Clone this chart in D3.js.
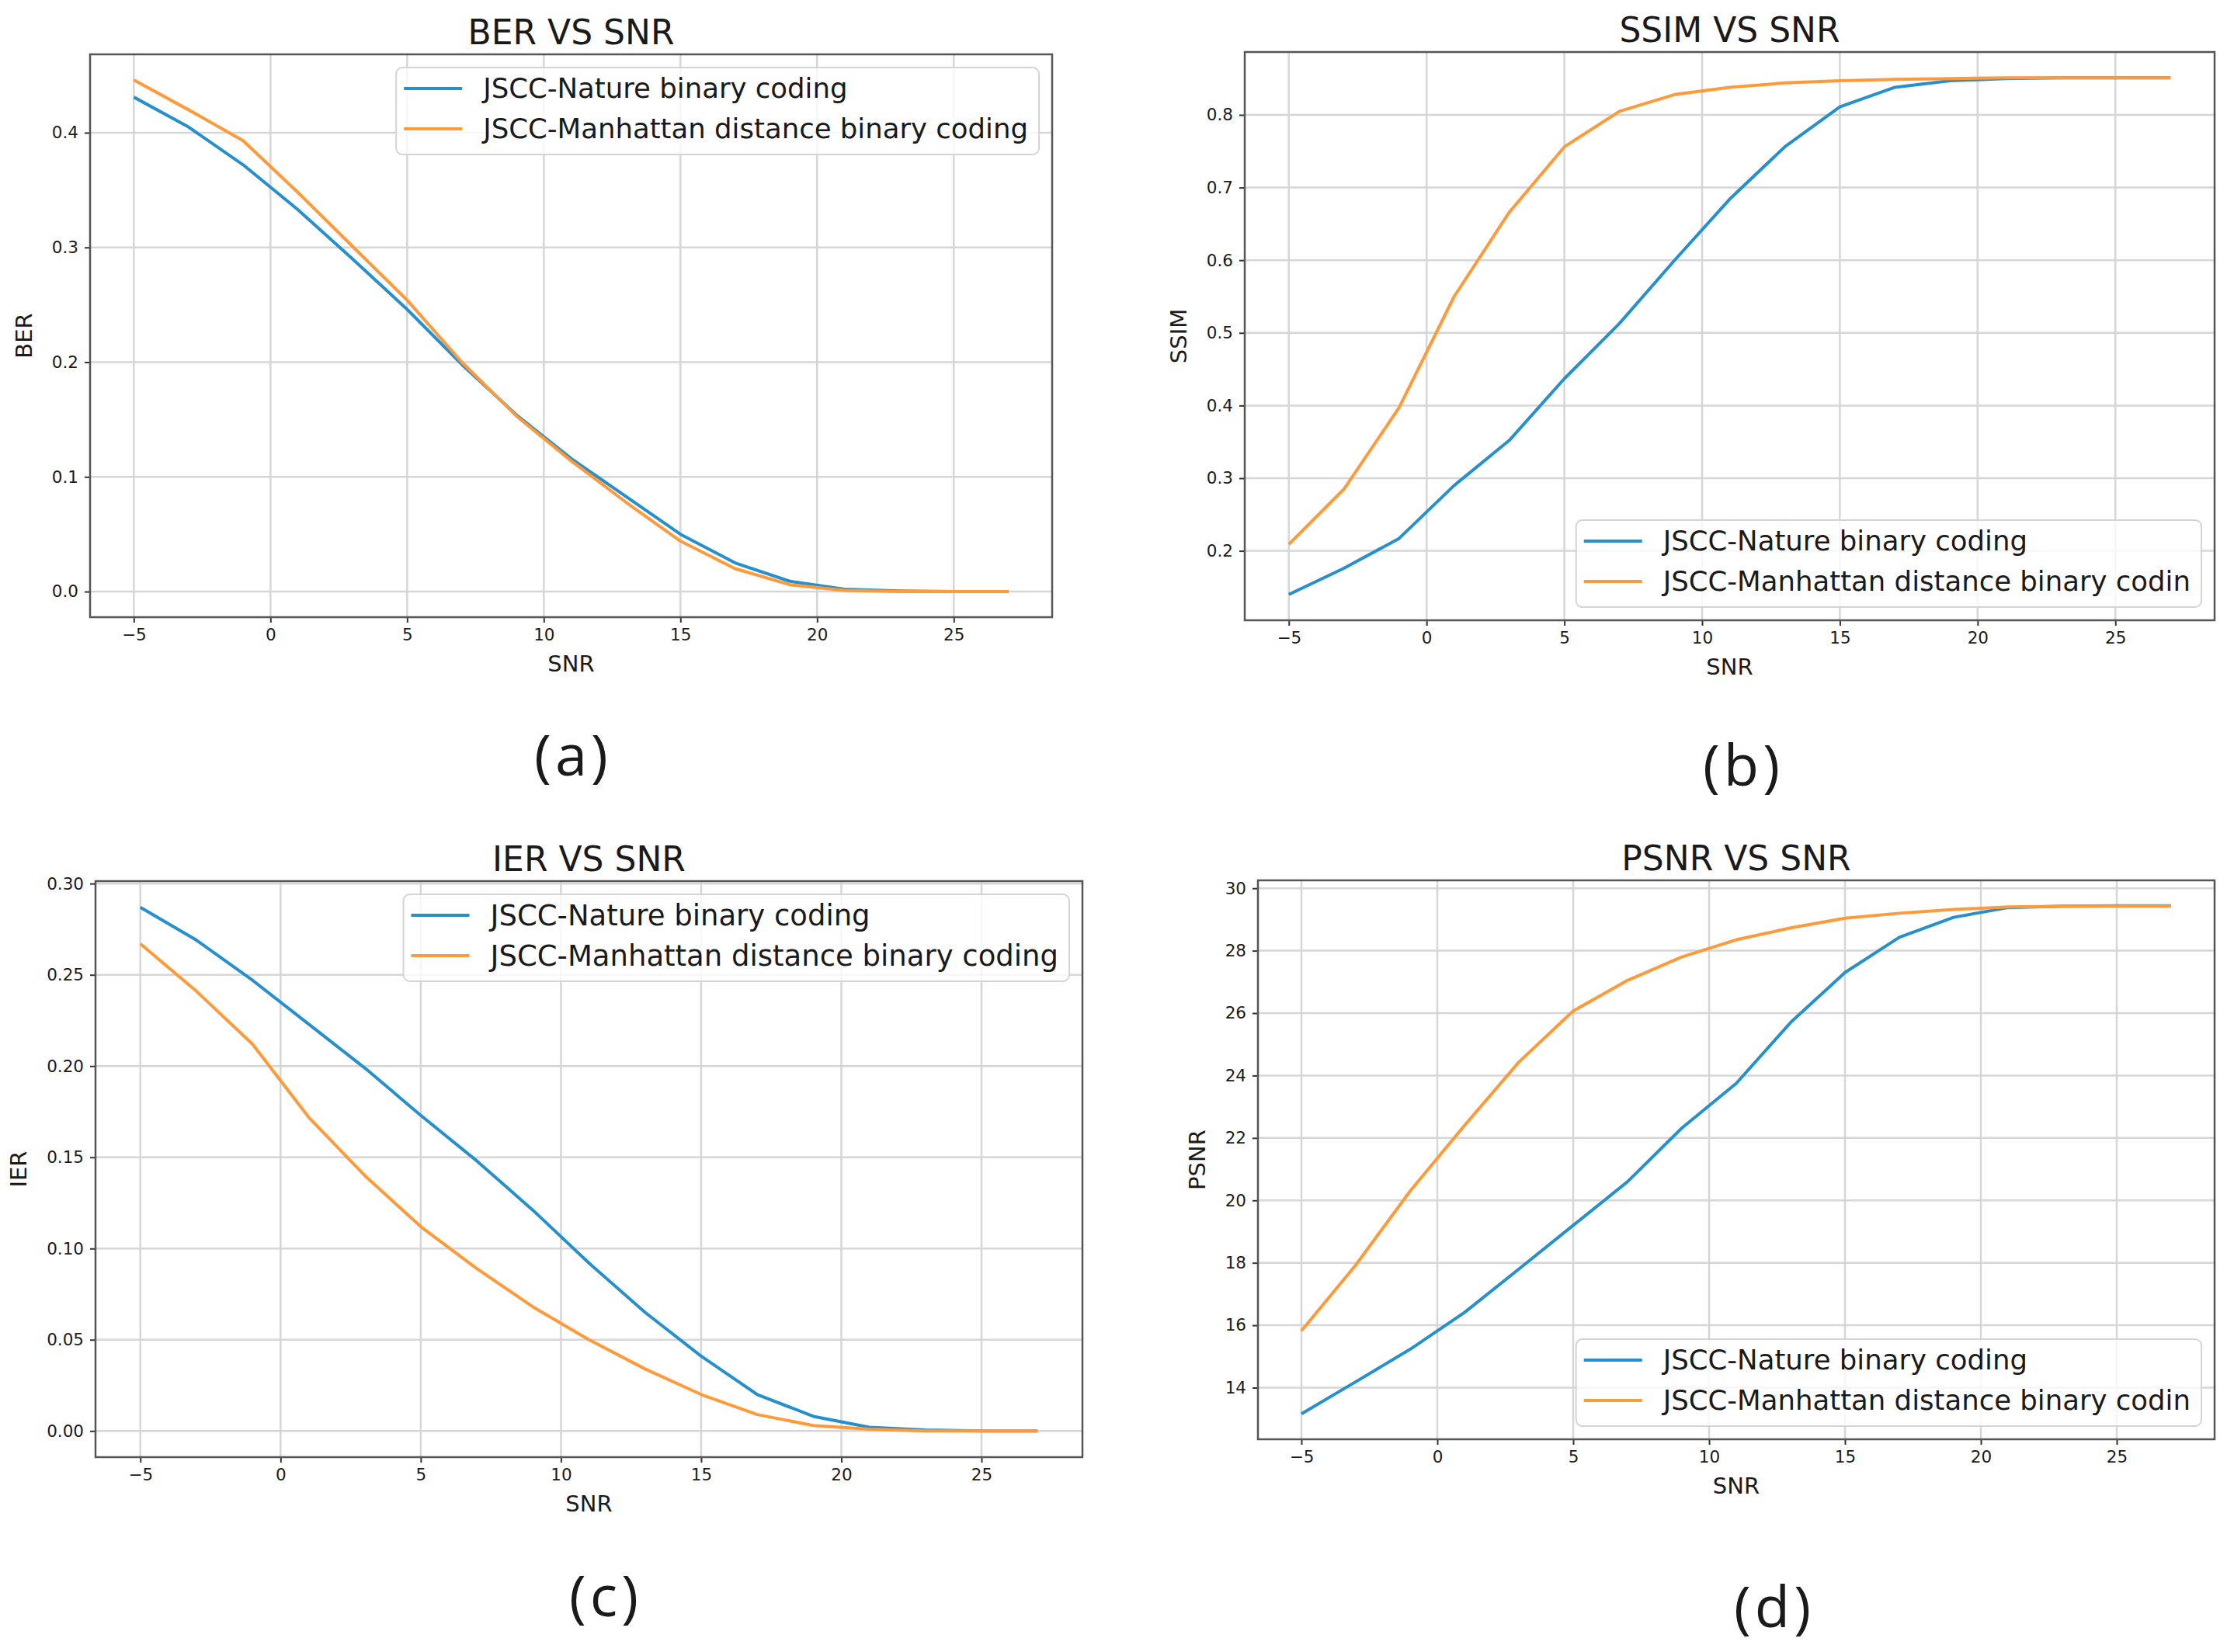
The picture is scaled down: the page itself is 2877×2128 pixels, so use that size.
<!DOCTYPE html>
<html>
<head>
<meta charset="utf-8">
<script src="https://cdn.jsdelivr.net/npm/d3@7"></script>
<style>
  body { margin: 0; background: #fff; }
  text { font-family: "DejaVu Sans", sans-serif; fill: #1a1a1a; }
</style>
</head>
<body>
<div id="chart"></div>
<script>
// data
const snr = [-5, -3, -1, 1, 3, 5, 7, 9, 11, 13, 15, 17, 19, 21, 23, 25, 27];
const seriesNames = ["JSCC-Nature binary coding", "JSCC-Manhattan distance binary coding"];
const seriesNamesCut = ["JSCC-Nature binary coding", "JSCC-Manhattan distance binary codin"];

const berNature    = [0.431, 0.405, 0.372, 0.333, 0.290, 0.246, 0.198, 0.154, 0.116, 0.083, 0.050, 0.025, 0.009, 0.002, 0.0005, 0, 0];
const berManhattan = [0.446, 0.420, 0.393, 0.348, 0.301, 0.254, 0.200, 0.153, 0.114, 0.078, 0.044, 0.020, 0.006, 0.001, 0, 0, 0];

const ssimNature    = [0.140, 0.176, 0.217, 0.290, 0.352, 0.437, 0.513, 0.600, 0.684, 0.756, 0.811, 0.838, 0.847, 0.850, 0.851, 0.851, 0.851];
const ssimManhattan = [0.209, 0.285, 0.397, 0.550, 0.666, 0.756, 0.805, 0.828, 0.838, 0.844, 0.847, 0.849, 0.850, 0.851, 0.851, 0.851, 0.851];

const ierNature    = [0.287, 0.269, 0.247, 0.223, 0.199, 0.173, 0.148, 0.121, 0.092, 0.065, 0.041, 0.020, 0.008, 0.002, 0.0005, 0, 0];
const ierManhattan = [0.267, 0.241, 0.212, 0.172, 0.140, 0.112, 0.089, 0.068, 0.050, 0.034, 0.020, 0.009, 0.003, 0.001, 0, 0, 0];

const psnrNature    = [13.16, 14.19, 15.23, 16.41, 17.80, 19.20, 20.60, 22.32, 23.75, 25.70, 27.30, 28.43, 29.07, 29.38, 29.43, 29.44, 29.44];
const psnrManhattan = [15.82, 17.93, 20.30, 22.40, 24.43, 26.07, 27.05, 27.80, 28.35, 28.73, 29.04, 29.20, 29.32, 29.40, 29.42, 29.43, 29.43];

const xTicks = [-5, 0, 5, 10, 15, 20, 25];
const berTicks = [0, 0.1, 0.2, 0.3, 0.4];
const ssimTicks = [0.2, 0.3, 0.4, 0.5, 0.6, 0.7, 0.8];
const ierTicks = [0, 0.05, 0.10, 0.15, 0.20, 0.25, 0.30];
const psnrTicks = [14, 16, 18, 20, 22, 24, 26, 28, 30];

const colors = ["#2590cd", "#ff9a3a"];

/** LAYOUT */
const width = 2877, height = 2128;
const panels = [
  { title: "BER VS SNR", ylabel: "BER", letter: "(a)", a: berNature, b: berManhattan,
    yTicks: berTicks, fmt: ".1f", names: seriesNames, legend: "tr", legendFont: 35.5,
    box: { left: 116, right: 1355, top: 70, bottom: 795 }, lx: 738, ly: 970 },
  { title: "SSIM VS SNR", ylabel: "SSIM", letter: "(b)", a: ssimNature, b: ssimManhattan,
    yTicks: ssimTicks, fmt: ".1f", names: seriesNamesCut, legend: "br", legendFont: 35.5,
    box: { left: 1603, right: 2852, top: 67, bottom: 799 }, lx: 2245, ly: 983 },
  { title: "IER VS SNR", ylabel: "IER", letter: "(c)", a: ierNature, b: ierManhattan,
    yTicks: ierTicks, fmt: ".2f", names: seriesNames, legend: "tr", legendFont: 37,
    box: { left: 123, right: 1394, top: 1135, bottom: 1877 }, lx: 780, ly: 2053 },
  { title: "PSNR VS SNR", ylabel: "PSNR", letter: "(d)", a: psnrNature, b: psnrManhattan,
    yTicks: psnrTicks, fmt: "d", names: seriesNamesCut, legend: "br", legendFont: 35.5,
    box: { left: 1620, right: 2852, top: 1134, bottom: 1854 }, lx: 2285, ly: 2067 }
];

const svg = d3.select("#chart").append("svg")
  .attr("width", width)
  .attr("height", height);

svg.append("rect").attr("width", width).attr("height", height).attr("fill", "#fff");

// matplotlib-like 5% padding around the data range
function padded(values) {
  const lo = d3.min(values), hi = d3.max(values), r = hi - lo;
  return [lo - 0.05 * r, hi + 0.05 * r];
}

panels.forEach(p => {
  const { left, right, top, bottom } = p.box;
  const g = svg.append("g");

  const xScale = d3.scaleLinear().domain(padded(snr)).range([left, right]);
  const yScale = d3.scaleLinear().domain(padded(p.a.concat(p.b))).range([bottom, top]);

  // grid
  g.selectAll("line.gx").data(xTicks).join("line")
    .attr("x1", d => xScale(d)).attr("x2", d => xScale(d))
    .attr("y1", top).attr("y2", bottom)
    .attr("stroke", "#d6d6d6").attr("stroke-width", 2.5);
  g.selectAll("line.gy").data(p.yTicks).join("line")
    .attr("x1", left).attr("x2", right)
    .attr("y1", d => yScale(d)).attr("y2", d => yScale(d))
    .attr("stroke", "#d6d6d6").attr("stroke-width", 2.5);

  // axes
  const xAxis = g.append("g")
    .attr("transform", `translate(0,${bottom})`)
    .call(d3.axisBottom(xScale).tickValues(xTicks).tickSize(7).tickPadding(8));
  const yAxis = g.append("g")
    .attr("transform", `translate(${left},0)`)
    .call(d3.axisLeft(yScale).tickValues(p.yTicks).tickFormat(d3.format(p.fmt)).tickSize(7).tickPadding(8));

  [xAxis, yAxis].forEach(ax => {
    ax.select(".domain").remove();
    ax.selectAll(".tick line").attr("stroke", "#333").attr("stroke-width", 2);
    ax.selectAll(".tick text")
      .style("font-family", "DejaVu Sans")
      .attr("font-size", 21.5)
      .attr("fill", "#222");
  });

  // frame
  g.append("rect")
    .attr("x", left).attr("y", top)
    .attr("width", right - left).attr("height", bottom - top)
    .attr("fill", "none").attr("stroke", "#555").attr("stroke-width", 2.5);

  // lines
  const line = d3.line().x((d, i) => xScale(snr[i])).y(d => yScale(d));
  [p.a, p.b].forEach((vals, i) => {
    g.append("path")
      .datum(vals)
      .attr("d", line)
      .attr("fill", "none")
      .attr("stroke", colors[i])
      .attr("stroke-width", 4)
      .attr("stroke-linejoin", "round");
  });

  // title and axis labels
  g.append("text")
    .attr("x", (left + right) / 2).attr("y", top - 13)
    .attr("text-anchor", "middle")
    .attr("font-size", 44)
    .text(p.title);

  g.append("text")
    .attr("x", (left + right) / 2).attr("y", bottom + 70)
    .attr("text-anchor", "middle")
    .attr("font-size", 29)
    .text("SNR");

  const minTickX = d3.min(yAxis.selectAll(".tick text").nodes(), n => n.getBBox().x) + left;
  g.append("text")
    .attr("transform", `translate(${minTickX - 26},${(top + bottom) / 2}) rotate(-90)`)
    .attr("text-anchor", "middle")
    .attr("font-size", 29)
    .text(p.ylabel);

  // legend
  const lg = g.append("g");
  const frame = lg.append("rect");
  const labels = lg.selectAll("text").data(p.names).join("text")
    .attr("x", 112)
    .attr("y", (d, i) => 27 + i * 52)
    .attr("dy", "0.35em")
    .attr("font-size", p.legendFont)
    .text(d => d);
  lg.selectAll("line").data(p.names).join("line")
    .attr("x1", 10).attr("x2", 85)
    .attr("y1", (d, i) => 27 + i * 52).attr("y2", (d, i) => 27 + i * 52)
    .attr("stroke", (d, i) => colors[i])
    .attr("stroke-width", 4);
  const textW = d3.max(labels.nodes(), n => n.getComputedTextLength());
  const boxW = 112 + textW + 14, boxH = 112;
  frame.attr("width", boxW).attr("height", boxH).attr("rx", 8)
    .attr("fill", "#fff").attr("fill-opacity", 0.8)
    .attr("stroke", "#d4d4d4").attr("stroke-width", 2);
  const gap = 17;
  const lx = right - gap - boxW;
  const ly = p.legend === "tr" ? top + gap : bottom - gap - boxH;
  lg.attr("transform", `translate(${lx},${ly})`);

  // panel letter
  svg.append("text")
    .attr("x", p.lx).attr("y", p.ly)
    .attr("text-anchor", "middle")
    .attr("dominant-baseline", "central")
    .style("font-family", "'Open Sans', sans-serif")
    .attr("font-size", 74)
    .attr("letter-spacing", 5)
    .text(p.letter);
});
</script>
</body>
</html>
